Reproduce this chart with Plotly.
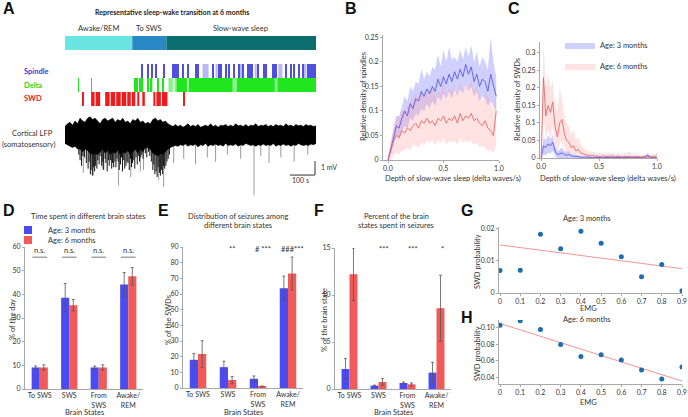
import plotly.graph_objects as go

W, H = 688, 417
FONT = 'Lato'

# ---------------- A: sleep-wake transition (times in s) ----------------
state_names = ['Awake/REM', 'To SWS', 'Slow-wave sleep']
state_start = [0, 268, 404]
state_end = [268, 404, 1000]

spindle_start = [304, 328, 344, 360, 392, 428, 436, 440, 448, 468, 488, 520, 528, 588, 612, 620,
                 640, 652, 672, 692, 708, 728, 736, 744, 768, 792, 800, 828, 836, 840, 880, 900,
                 912, 932, 948, 968, 976, 984, 992, 996]
spindle_light = [(548, 572), (600, 608), (700, 706), (756, 764), (850, 866), (952, 962)]

delta_on = [(52, 55), (104, 107), (276, 282), (286, 290), (296, 300), (306, 312), (328, 334),
            (338, 348), (368, 372), (388, 391), (444, 486), (492, 668), (684, 836), (846, 1000)]
delta_light = [(412, 430), (436, 444), (668, 684), (836, 846)]

swd_on = [(68, 72), (104, 118), (122, 140), (160, 178), (182, 200), (204, 222), (226, 244),
          (248, 262), (266, 280), (288, 296), (308, 318), (352, 360), (364, 382), (386, 408), (472, 475)]

lfp_t = [0, 10, 20, 30, 40, 50, 60, 70, 80, 90, 100, 110, 120, 130, 140, 150, 160, 170, 180, 190,
         200, 210, 220, 230, 240, 250, 260, 270, 280, 290, 300, 310, 320, 330, 340, 350, 360, 370,
         380, 390, 400, 410, 420, 430, 440, 450, 460, 470, 480, 490, 500, 510, 520, 530, 540, 550,
         560, 570, 580, 590, 600, 610, 620, 630, 640, 650, 660, 670, 680, 690, 700, 710, 720, 730,
         740, 750, 760, 770, 780, 790, 800, 810, 820, 830, 840, 850, 860, 870, 880, 890, 900, 910,
         920, 930, 940, 950, 960, 970, 980, 990, 1000]
lfp_upper = [0.6,
             0.8, 0.9, 0.7, 1.0, 0.8, 1.2, 1.0, 0.9, 1.2, 1.3,
             1.1, 1.2, 1.0, 0.8, 1.1, 1.2, 1.0, 1.1, 1.2, 0.9,
             1.1, 1.0, 1.2, 0.9, 1.0, 0.8, 1.1, 1.0, 1.2, 0.9,
             1.0, 0.8, 0.9, 0.8, 1.1, 1.2, 1.0, 1.1, 0.9, 1.0,
             0.8, 0.7, 0.6, 0.75, 0.6, 0.7, 0.55, 0.65, 0.8, 0.6,
             0.7, 0.6, 0.75, 0.55, 0.65, 0.7, 0.6, 0.8, 0.6, 0.7,
             0.55, 0.7, 0.65, 0.75, 0.6, 0.7, 0.6, 0.8, 0.65, 0.7,
             0.6, 0.75, 0.6, 0.7, 0.65, 0.8, 0.6, 0.7, 0.65, 0.75,
             0.6, 0.7, 0.6, 0.75, 0.65, 0.7, 0.6, 0.8, 0.65, 0.7,
             0.6, 0.75, 0.65, 0.7, 0.6, 0.75, 0.65, 0.7, 0.6, 0.65]
lfp_lower = [-0.6,
             -0.7, -0.8, -0.9, -0.8, -1.0, -1.0, -1.2, -1.0, -1.1, -1.3,
             -1.4, -1.3, -1.4, -1.2, -1.0, -1.3, -1.1, -1.4, -1.2, -1.3,
             -1.1, -1.4, -1.2, -1.3, -1.1, -1.4, -1.2, -1.0, -1.3, -1.0,
             -1.2, -0.9, -0.9, -1.0, -1.3, -1.4, -1.5, -1.3, -1.4, -1.2,
             -1.0, -0.9, -0.8, -0.75, -0.8, -0.7, -0.75, -0.65, -0.8, -0.7,
             -0.75, -0.65, -0.85, -0.7, -0.75, -0.6, -0.8, -0.7, -0.75, -0.65,
             -0.75, -0.7, -0.8, -0.6, -0.75, -0.7, -0.75, -0.65, -0.8, -0.7,
             -0.75, -0.6, -0.7, -0.75, -0.7, -0.8, -0.7, -0.75, -0.65, -0.75,
             -0.7, -0.75, -0.6, -0.8, -0.7, -0.75, -0.65, -0.75, -0.7, -0.8,
             -0.7, -0.75, -0.6, -0.7, -0.75, -0.7, -0.75, -0.65, -0.7, -0.6]
# dense black downward deflections during wake / SWDs
black_t = [55, 60, 66, 71, 78, 85, 92, 96, 101, 104, 109, 113, 118, 122, 127, 131, 136, 140, 146,
           151, 154, 160, 163, 168, 173, 176, 181, 186, 189, 194, 199, 203, 207, 212, 216, 221, 225,
           229, 234, 238, 243, 247, 251, 256, 261, 265, 269, 274, 278, 283, 288, 292, 297, 302, 306,
           311, 320, 326, 333, 338, 344, 350, 354, 358, 363, 367, 371, 376, 380, 384, 389, 393, 397,
           402, 406, 411, 416]
black_mv = [-1.4, -1.8, -2.2, -1.5, -1.6, -2.0, -2.4, -1.9, -2.8, -2.5, -2.9, -2.3, -2.6, -2.2,
            -2.4, -1.8, -2.1, -1.5, -2.2, -1.9, -2.5, -1.7, -2.0, -2.6, -1.8, -2.2, -1.8, -2.4,
            -2.0, -2.3, -1.9, -2.3, -1.7, -1.9, -2.5, -2.1, -1.6, -2.6, -1.8, -2.4, -2.2, -1.9,
            -2.0, -2.5, -1.7, -2.3, -2.0, -1.8, -2.4, -1.6, -2.1, -1.5, -1.9, -1.6, -1.4, -1.7,
            -1.3, -1.6, -1.2, -1.5, -1.9, -2.5, -2.1, -2.8, -2.6, -3.0, -2.3, -2.7, -2.9, -2.5,
            -2.8, -2.2, -2.4, -2.2, -1.9, -1.7, -1.4]
# sparse grey spikes
spike_t = [73, 113, 150, 213, 262, 300, 313, 373, 393, 433, 473, 520, 567, 600, 647, 700, 753,
           780, 813, 860, 913, 967]
spike_mv = [-2.7, -2.9, -2.4, -3.6, -3.0, -2.6, -2.5, -3.2, -3.7, -2.0, -1.7, -2.1, -1.6, -1.9,
            -1.4, -1.7, -4.3, -1.5, -2.0, -1.6, -1.9, -1.4]

# ---------------- B / C: density vs depth of slow-wave sleep ----------------
b_x = [0.0, 0.025, 0.05, 0.075, 0.1, 0.125, 0.15, 0.175, 0.2, 0.225, 0.25, 0.275, 0.3, 0.325,
       0.35, 0.375, 0.4, 0.425, 0.45, 0.475, 0.5, 0.525, 0.55, 0.575, 0.6, 0.625, 0.65, 0.675,
       0.7, 0.725, 0.75, 0.775, 0.8, 0.825, 0.85, 0.875, 0.9, 0.925, 0.95, 0.975]
b3_mean = [0.0, 0.02, 0.045, 0.07, 0.065, 0.085, 0.1, 0.09, 0.115, 0.105, 0.125, 0.12, 0.14, 0.13,
           0.145, 0.135, 0.15, 0.14, 0.165, 0.15, 0.17, 0.155, 0.175, 0.16, 0.18, 0.165, 0.185, 0.17,
           0.195, 0.175, 0.19, 0.16, 0.175, 0.15, 0.165, 0.16, 0.14, 0.175, 0.15, 0.13]
b3_hi = [0.005, 0.035, 0.06, 0.09, 0.09, 0.11, 0.13, 0.12, 0.15, 0.14, 0.16, 0.155, 0.185, 0.165,
         0.18, 0.17, 0.19, 0.185, 0.215, 0.19, 0.225, 0.2, 0.23, 0.205, 0.21, 0.2, 0.225, 0.205,
         0.23, 0.21, 0.235, 0.2, 0.22, 0.19, 0.21, 0.2, 0.185, 0.25, 0.2, 0.17]
b3_lo = [0.0, 0.01, 0.03, 0.05, 0.045, 0.06, 0.07, 0.065, 0.085, 0.08, 0.095, 0.09, 0.105, 0.1,
         0.115, 0.105, 0.12, 0.11, 0.13, 0.12, 0.135, 0.125, 0.14, 0.125, 0.145, 0.13, 0.145, 0.135,
         0.155, 0.14, 0.15, 0.13, 0.14, 0.12, 0.13, 0.125, 0.11, 0.12, 0.11, 0.1]
b6_mean = [0.0, 0.02, 0.04, 0.05, 0.045, 0.06, 0.055, 0.065, 0.06, 0.07, 0.075, 0.065, 0.08, 0.075,
           0.085, 0.075, 0.08, 0.07, 0.085, 0.08, 0.09, 0.075, 0.085, 0.08, 0.09, 0.075, 0.095, 0.08,
           0.09, 0.085, 0.095, 0.08, 0.085, 0.075, 0.07, 0.08, 0.065, 0.06, 0.05, 0.1]
b6_hi = [0.005, 0.04, 0.07, 0.09, 0.085, 0.1, 0.1, 0.11, 0.12, 0.125, 0.135, 0.12, 0.14, 0.13,
         0.145, 0.135, 0.15, 0.13, 0.14, 0.135, 0.16, 0.13, 0.15, 0.14, 0.155, 0.13, 0.16, 0.14,
         0.155, 0.145, 0.165, 0.14, 0.15, 0.13, 0.12, 0.14, 0.13, 0.12, 0.1, 0.15]
b6_lo = [0.0, 0.0, 0.01, 0.015, 0.01, 0.02, 0.02, 0.025, 0.02, 0.03, 0.03, 0.025, 0.035, 0.03,
         0.04, 0.035, 0.04, 0.03, 0.04, 0.035, 0.045, 0.03, 0.04, 0.035, 0.04, 0.03, 0.045, 0.035,
         0.04, 0.035, 0.04, 0.03, 0.035, 0.025, 0.03, 0.025, 0.02, 0.02, 0.015, 0.03]

c_x = [0.0, 0.02, 0.04, 0.06, 0.08, 0.1, 0.12, 0.14, 0.16, 0.18, 0.2, 0.22, 0.24, 0.26, 0.28,
       0.3, 0.32, 0.34, 0.36, 0.38, 0.4, 0.42, 0.44, 0.46, 0.48, 0.5, 0.52, 0.54, 0.56, 0.58,
       0.6, 0.62, 0.64, 0.66, 0.68, 0.7, 0.72, 0.74, 0.76, 0.78, 0.8, 0.82, 0.84, 0.86, 0.88,
       0.9, 0.92, 0.94, 0.96, 0.98, 1.0]
c6_mean = [0.0, 0.23, 0.12, 0.15, 0.13, 0.16, 0.09, 0.06, 0.1, 0.11, 0.07, 0.05, 0.045, 0.03, 0.035,
           0.02, 0.025, 0.015, 0.012, 0.01, 0.008, 0.006, 0.008, 0.005, 0.006, 0.004, 0.005, 0.006,
           0.004, 0.005, 0.004, 0.006, 0.003, 0.005, 0.004, 0.003, 0.005, 0.004, 0.003, 0.004, 0.003,
           0.004, 0.003, 0.002, 0.003, 0.002, 0.003, 0.002, 0.004, 0.003, 0.01]
c6_hi = [0.0, 0.335, 0.2, 0.24, 0.2, 0.22, 0.15, 0.13, 0.2, 0.17, 0.12, 0.1, 0.09, 0.065, 0.08,
         0.05, 0.06, 0.04, 0.03, 0.025, 0.02, 0.018, 0.02, 0.015, 0.016, 0.012, 0.014, 0.016, 0.012,
         0.014, 0.012, 0.016, 0.01, 0.014, 0.012, 0.01, 0.014, 0.012, 0.02, 0.012, 0.01, 0.012, 0.01,
         0.008, 0.01, 0.008, 0.01, 0.008, 0.012, 0.01, 0.015]
c6_lo = [0.0, 0.12, 0.06, 0.08, 0.06, 0.09, 0.04, 0.02, 0.04, 0.05, 0.03, 0.015, 0.015, 0.01, 0.01,
         0.005, 0.008, 0.004, 0.003, 0.002, 0.002, 0.0, 0.0, 0.0, 0.0, 0.0, 0.0, 0.0, 0.0, 0.0,
         0.0, 0.0, 0.0, 0.0, 0.0, 0.0, 0.0, 0.0, 0.0, 0.0, 0.0, 0.0, 0.0, 0.0, 0.0, 0.0, 0.0,
         0.0, 0.0, 0.0, 0.0]
c3_mean = [0.0, 0.035, 0.03, 0.04, 0.035, 0.045, 0.02, 0.01, 0.012, 0.015, 0.01, 0.008, 0.01, 0.006,
           0.005, 0.004, 0.003, 0.003, 0.002, 0.003, 0.002, 0.002, 0.001, 0.002, 0.001, 0.002, 0.001,
           0.001, 0.002, 0.001, 0.002, 0.001, 0.002, 0.003, 0.002, 0.001, 0.002, 0.001, 0.002, 0.001,
           0.002, 0.001, 0.002, 0.001, 0.002, 0.004, 0.008, 0.003, 0.001, 0.002, 0.001]
c3_hi = [0.0, 0.06, 0.05, 0.065, 0.055, 0.065, 0.035, 0.02, 0.025, 0.03, 0.02, 0.018, 0.02, 0.012,
         0.01, 0.008, 0.006, 0.006, 0.005, 0.006, 0.005, 0.005, 0.003, 0.005, 0.003, 0.005, 0.003,
         0.003, 0.005, 0.003, 0.005, 0.003, 0.005, 0.007, 0.005, 0.003, 0.005, 0.003, 0.005, 0.003,
         0.005, 0.003, 0.005, 0.003, 0.005, 0.008, 0.014, 0.006, 0.003, 0.005, 0.003]
c3_lo = [0.0, 0.01, 0.008, 0.015, 0.012, 0.02, 0.005, 0.0, 0.0, 0.0, 0.0, 0.0, 0.0, 0.0, 0.0, 0.0,
         0.0, 0.0, 0.0, 0.0, 0.0, 0.0, 0.0, 0.0, 0.0, 0.0, 0.0, 0.0, 0.0, 0.0, 0.0, 0.0, 0.0, 0.0,
         0.0, 0.0, 0.0, 0.0, 0.0, 0.0, 0.0, 0.0, 0.0, 0.0, 0.0, 0.0, 0.0, 0.0, 0.0, 0.0, 0.0]

# ---------------- D / E / F: bar charts ----------------
states = ['To SWS', 'SWS', 'From SWS', 'Awake/REM']
state_ticks = ['To SWS', 'SWS', 'From<br>SWS', 'Awake/<br>REM']

d_3m = [9.1, 38.6, 9.1, 44.2]
d_3m_err = [0.6, 6.0, 0.6, 5.0]
d_6m = [9.1, 35.4, 9.1, 47.6]
d_6m_err = [1.1, 2.4, 1.1, 3.7]
d_sig = ['n.s.', 'n.s.', 'n.s.', 'n.s.']

e_3m = [18.0, 13.3, 5.9, 63.6]
e_3m_err = [4.0, 3.8, 1.8, 7.8]
e_6m = [21.7, 5.1, 1.0, 73.1]
e_6m_err = [8.5, 2.3, 0.3, 10.5]
e_sig = ['', '**', '# ***', '###***']

f_3m = [2.13, 0.36, 0.64, 1.74]
f_3m_err = [1.1, 0.05, 0.1, 1.1]
f_6m = [12.2, 0.75, 0.5, 8.6]
f_6m_err = [2.8, 0.35, 0.15, 3.5]
f_sig = ['', '***', '***', '*']

# ---------------- G / H: SWD probability vs EMG ----------------
emg = [0.0, 0.1, 0.2, 0.3, 0.4, 0.5, 0.6, 0.7, 0.8, 0.9]
g_prob = [0.0070, 0.0071, 0.0183, 0.0138, 0.0193, 0.0155, 0.0113, 0.0051, 0.0089, 0.0007]
g_fit_x = [0.0, 0.9]
g_fit_y = [0.0150, 0.0076]
h_prob = [0.1028, 0.1080, 0.0976, 0.0794, 0.0650, 0.0673, 0.0609, 0.0488, 0.0379, 0.0524]
h_fit_x = [0.0, 0.9]
h_fit_y = [0.1048, 0.0355]

BLUE = '#4b4bf2'
RED = '#f25a5a'
BLUE_LINE = '#5a5ae0'
RED_LINE = '#e86868'
BLUE_BAND = 'rgba(120,120,255,0.35)'
RED_BAND = 'rgba(255,150,150,0.28)'


def px(x):
	return x / W


def py(y):
	return 1 - y / H


def dom_x(a, b):
	return [a / W, b / W]


def dom_y(top, bottom):
	return [1 - bottom / H, 1 - top / H]


def segments(times, lo, values):
	xs, ys = [], []
	for t, v in zip(times, values):
		xs += [t, t, None]
		ys += [lo, v, None]
	return xs, ys


fig = go.Figure()

# ---- A raster (rows in axis units 0..7)
ROW_STATE, ROW_SPINDLE, ROW_DELTA, ROW_SWD = 6.3, 3.5, 2.1, 0.7


def interval_bar(intervals, row, color):
	return go.Bar(
		orientation='h', y=[row] * len(intervals), base=[s for s, e in intervals],
		x=[e - s for s, e in intervals], width=1.4, offset=-0.7,
		marker=dict(color=color, line_width=0), xaxis='x', yaxis='y',
		showlegend=False, hoverinfo='skip',
	)


fig.add_trace(interval_bar(list(zip(state_start, state_end)), ROW_STATE, ['#6ae6e2', '#2b88c6', '#0c6e6e']))
fig.add_trace(interval_bar(spindle_light, ROW_SPINDLE, '#b8b8f4'))
fig.add_trace(interval_bar([(s, s + 4) for s in spindle_start], ROW_SPINDLE, '#5050e0'))
fig.add_trace(interval_bar(delta_light, ROW_DELTA, '#8cf28c'))
fig.add_trace(interval_bar(delta_on, ROW_DELTA, '#1fe61f'))
fig.add_trace(interval_bar(swd_on, ROW_SWD, '#ee1c1c'))

# ---- A LFP trace
sx, sy = segments(spike_t, 0, spike_mv)
fig.add_trace(go.Scatter(x=sx, y=sy, mode='lines', line=dict(color='#9a9a9a', width=1),
                         xaxis='x2', yaxis='y2', showlegend=False, hoverinfo='skip'))
bx, by = segments(black_t, 0, black_mv)
fig.add_trace(go.Scatter(x=bx, y=by, mode='lines', line=dict(color='#111', width=1),
                         xaxis='x2', yaxis='y2', showlegend=False, hoverinfo='skip'))
fig.add_trace(go.Scatter(x=lfp_t + lfp_t[::-1], y=lfp_upper + lfp_lower[::-1], mode='lines',
                         fill='toself', fillcolor='black', line=dict(color='black', width=0.6),
                         xaxis='x2', yaxis='y2', showlegend=False, hoverinfo='skip'))
SCALE_T, SCALE_MV = 100, 1
fig.add_trace(go.Scatter(x=[996 - SCALE_T, 996, 996], y=[-2.86, -2.86, -2.86 + SCALE_MV], mode='lines',
                         line=dict(color='#333', width=1), xaxis='x2', yaxis='y2',
                         showlegend=False, hoverinfo='skip'))


# ---- B / C
def band(x, lo, hi, fillcolor, axis, name=None, legend=None):
	return go.Scatter(x=x + x[::-1], y=hi + lo[::-1], mode='lines', fill='toself',
	                  fillcolor=fillcolor, line=dict(width=0), xaxis='x' + axis, yaxis='y' + axis,
	                  name=name, showlegend=legend is not None, legend=legend or 'legend',
	                  hoverinfo='skip')


fig.add_trace(band(b_x, b3_lo, b3_hi, BLUE_BAND, '3'))
fig.add_trace(band(b_x, b6_lo, b6_hi, RED_BAND, '3'))
fig.add_trace(go.Scatter(x=b_x, y=b3_mean, mode='lines', line=dict(color=BLUE_LINE, width=0.9),
                         xaxis='x3', yaxis='y3', showlegend=False))
fig.add_trace(go.Scatter(x=b_x, y=b6_mean, mode='lines', line=dict(color=RED_LINE, width=0.9),
                         xaxis='x3', yaxis='y3', showlegend=False))

fig.add_trace(band(c_x, c3_lo, c3_hi, BLUE_BAND, '4', 'Age: 3 months', 'legend'))
fig.add_trace(band(c_x, c6_lo, c6_hi, RED_BAND, '4', 'Age: 6 months', 'legend3'))
fig.add_trace(go.Scatter(x=c_x, y=c3_mean, mode='lines', line=dict(color=BLUE_LINE, width=0.9),
                         xaxis='x4', yaxis='y4', showlegend=False))
fig.add_trace(go.Scatter(x=c_x, y=c6_mean, mode='lines', line=dict(color=RED_LINE, width=0.9),
                         xaxis='x4', yaxis='y4', showlegend=False))

# ---- D / E / F bars (numeric positions, labelled by tick text)
pos = list(range(len(states)))
for axis, v3, e3, v6, e6 in [('5', d_3m, d_3m_err, d_6m, d_6m_err),
                             ('6', e_3m, e_3m_err, e_6m, e_6m_err),
                             ('7', f_3m, f_3m_err, f_6m, f_6m_err)]:
	for vals, errs, color in [(v3, e3, BLUE), (v6, e6, RED)]:
		fig.add_trace(go.Bar(
			x=pos, y=vals, marker=dict(color=color, line_width=0),
			error_y=dict(type='data', array=errs, color='#555', thickness=0.8, width=1.5),
			xaxis='x' + axis, yaxis='y' + axis, showlegend=False,
		))

# legend entries of D (square swatches)
for name, color, leg in [('Age: 3 months', BLUE, 'legend2'), ('Age: 6 months', RED, 'legend4')]:
	fig.add_trace(go.Scatter(x=[None], y=[None], mode='markers', name=name,
	                         marker=dict(symbol='square', size=8, color=color),
	                         xaxis='x5', yaxis='y5', legend=leg))

# n.s. lines in D
NS_Y = 55.7
nx, ny = [], []
for i in pos:
	nx += [i - 0.25, i + 0.25, None]
	ny += [NS_Y, NS_Y, None]
fig.add_trace(go.Scatter(x=nx, y=ny, mode='lines', line=dict(color='#777', width=1),
                         xaxis='x5', yaxis='y5', showlegend=False, hoverinfo='skip'))

# ---- G / H
for axis, prob, fx, fy in [('8', g_prob, g_fit_x, g_fit_y), ('9', h_prob, h_fit_x, h_fit_y)]:
	fig.add_trace(go.Scatter(x=fx, y=fy, mode='lines', line=dict(color='#f07a7a', width=0.8),
	                         xaxis='x' + axis, yaxis='y' + axis, showlegend=False))
	fig.add_trace(go.Scatter(x=emg, y=prob, mode='markers', marker=dict(color='#1c6cb0', size=5),
	                         xaxis='x' + axis, yaxis='y' + axis, showlegend=False))

# ---------------- layout ----------------
tickfont = dict(family=FONT, size=7, color='#333')
base_axis = dict(showline=True, linecolor='#a8a8a8', linewidth=1, ticks='outside', ticklen=2,
                 tickcolor='#a8a8a8', tickfont=tickfont, showgrid=False, zeroline=False,
                 automargin=False)
hidden = dict(visible=False, automargin=False, showgrid=False, zeroline=False)
cat_axis = dict(base_axis, range=[-0.5, 3.5], ticks='', tickvals=pos, ticktext=state_ticks)


def legend_at(x, y):
	return dict(x=px(x), y=py(y), xanchor='left', yanchor='middle', bgcolor='rgba(0,0,0,0)',
	            font=dict(family=FONT, size=7.5, color='#333'), itemwidth=30, borderwidth=0)


layout = dict(
	template='none',
	width=W, height=H, margin=dict(l=0, r=0, t=0, b=0, pad=0, autoexpand=False),
	paper_bgcolor='white', plot_bgcolor='white',
	barmode='group', bargap=0.45, bargroupgap=0.0,
	font=dict(family=FONT, size=7, color='#222'),
	xaxis=dict(hidden, domain=dom_x(65, 316), range=[0, 1000], anchor='y'),
	yaxis=dict(hidden, domain=dom_y(36, 106), range=[0, 7], anchor='x'),
	xaxis2=dict(hidden, domain=dom_x(65, 316), range=[0, 1000], anchor='y2'),
	yaxis2=dict(hidden, domain=dom_y(112, 200), range=[-4.64, 1.64], anchor='x2'),
	xaxis3=dict(base_axis, domain=dom_x(383, 499), range=[-0.045, 1.0], anchor='y3',
	            tickvals=[0, 0.5, 1.0], ticktext=['0.0', '0.5', '1.0']),
	yaxis3=dict(base_axis, domain=dom_y(35, 160), range=[0, 0.255], anchor='x3',
	            tickvals=[0, 0.05, 0.1, 0.15, 0.2, 0.25], ticktext=['0', '0.05', '0.1', '0.15', '0.2', '0.25']),
	xaxis4=dict(base_axis, domain=dom_x(540, 657), range=[-0.01, 1.0], anchor='y4',
	            tickvals=[0, 0.5, 1.0], ticktext=['0.0', '0.5', '1.0']),
	yaxis4=dict(base_axis, domain=dom_y(42, 158), range=[0, 0.331], anchor='x4',
	            tickvals=[0, 0.05, 0.1, 0.15, 0.2, 0.25, 0.3],
	            ticktext=['0', '0.05', '0.1', '0.15', '0.2', '0.25', '0.3']),
	xaxis5=dict(cat_axis, domain=dom_x(25, 143), anchor='y5'),
	yaxis5=dict(base_axis, domain=dom_y(247, 389), range=[0, 60], anchor='x5', dtick=10),
	xaxis6=dict(cat_axis, domain=dom_x(183, 303), anchor='y6'),
	yaxis6=dict(base_axis, domain=dom_y(247, 388), range=[0, 90], anchor='x6', dtick=10),
	xaxis7=dict(cat_axis, domain=dom_x(335, 451), anchor='y7'),
	yaxis7=dict(base_axis, domain=dom_y(248, 389), range=[0, 15], anchor='x7', dtick=5),
	xaxis8=dict(base_axis, domain=dom_x(499, 682), range=[-0.005, 0.9], anchor='y8',
	            tickvals=emg, ticktext=['0'] + [str(v) for v in emg[1:]]),
	yaxis8=dict(base_axis, domain=dom_y(227, 293), range=[0, 0.0206], anchor='x8',
	            tickvals=[0, 0.01, 0.02], ticktext=['0', '0.01', '0.02']),
	xaxis9=dict(base_axis, domain=dom_x(499, 682), range=[-0.005, 0.9], anchor='y9',
	            tickvals=emg, ticktext=['0'] + [str(v) for v in emg[1:]]),
	yaxis9=dict(base_axis, domain=dom_y(320, 384), range=[0.032, 0.109], anchor='x9',
	            tickvals=[0.04, 0.06, 0.08, 0.10], ticktext=['0.04', '0.06', '0.08', '0.10']),
	legend=legend_at(560, 45),
	legend3=legend_at(560, 66),
	legend2=legend_at(8, 230),
	legend4=legend_at(8, 240),
)
fig.update_layout(**layout)

ann = []


def text(x, y, s, size=7.5, color='#333', bold=False, angle=0, xanchor='center', family=FONT,
         xref='paper', yref='paper'):
	if bold:
		s = '<b>' + s + '</b>'
	ann.append(dict(x=x if xref != 'paper' else px(x), y=y if yref != 'paper' else py(y), text=s,
	                xref=xref, yref=yref, showarrow=False, textangle=angle,
	                xanchor=xanchor, yanchor='middle',
	                font=dict(family=family, size=size, color=color)))


# panel letters
for letter, x, y in [('A', 9, 9), ('B', 351, 9), ('C', 514, 9), ('D', 9, 211), ('E', 163, 211),
                     ('F', 319, 211), ('G', 467, 211), ('H', 467, 317)]:
	text(x, y, letter, size=16, color='#111', bold=True, family='Liberation Sans')

# A
text(172, 12, 'Representative sleep-wake transition at 6 months', size=7, color='#222', bold=True)
for name, s, e in zip(state_names, state_start, state_end):
	text(65 + (s + e) / 2 / 4, 28, name, size=7.5)
text(22, 71, 'Spindle', size=7.5, color='#3a3ad8', bold=True, xanchor='left')
text(22, 85, 'Delta', size=7.5, color='#22d822', bold=True, xanchor='left')
text(22, 99, 'SWD', size=7.5, color='#e32222', bold=True, xanchor='left')
text(32, 133, 'Cortical LFP', size=7.5)
text(28, 144, '(somatosensory)', size=7.5)
text(319, 167, '1 mV', size=7, xanchor='left')
text(300, 180, '100 s', size=7)

# B / C
text(363, 97, 'Relative density of spindles', size=7.5, angle=-90)
text(453, 178, 'Depth of slow-wave sleep (delta waves/s)', size=7.5)
text(517, 100, 'Relative density of SWDs', size=7.5, angle=-90)
text(608, 178, 'Depth of slow-wave sleep (delta waves/s)', size=7.5)

# D / E / F
text(88, 216, 'Time spent in different brain states', size=7.5)
text(12, 320, '% of the day', size=7.5, angle=-90)
text(84, 412, 'Brain States', size=7.5)
text(238, 216, 'Distribution of seizures among', size=7.5)
text(238, 226, 'different brain states', size=7.5)
text(168, 320, '% of the SWDs', size=7.5, angle=-90)
text(243, 412, 'Brain States', size=7.5)
text(396, 216, 'Percent of the brain', size=7.5)
text(396, 226, 'states spent in seizures', size=7.5)
text(324, 320, '% of the brain state', size=7.5, angle=-90)
text(393, 412, 'Brain States', size=7.5)
for i, s in zip(pos, d_sig):
	text(i, 58.5, s, size=7.5, xref='x5', yref='y5')
for i, s in zip(pos, e_sig):
	text(i + 0.15, 88.5, s, size=7.5, xref='x6', yref='y6')
for i, s in zip(pos, f_sig):
	text(i + 0.2, 14.8, s, size=7.5, xref='x7', yref='y7')

# G / H
text(587, 219, 'Age: 3 months', size=7.5)
text(477, 262, 'SWD probability', size=7.5, angle=-90)
text(588, 308, 'EMG', size=7.5)
text(587, 319, 'Age: 6 months', size=7.5)
text(477, 354, 'SWD probability', size=7.5, angle=-90)
text(588, 402, 'EMG', size=7.5)

fig.update_layout(annotations=ann)
# the page body keeps its default 8px margin otherwise, shifting the whole figure
fig.write_html('out.html', config={'displayModeBar': False},
               post_script="document.body.style.margin='0px';")
